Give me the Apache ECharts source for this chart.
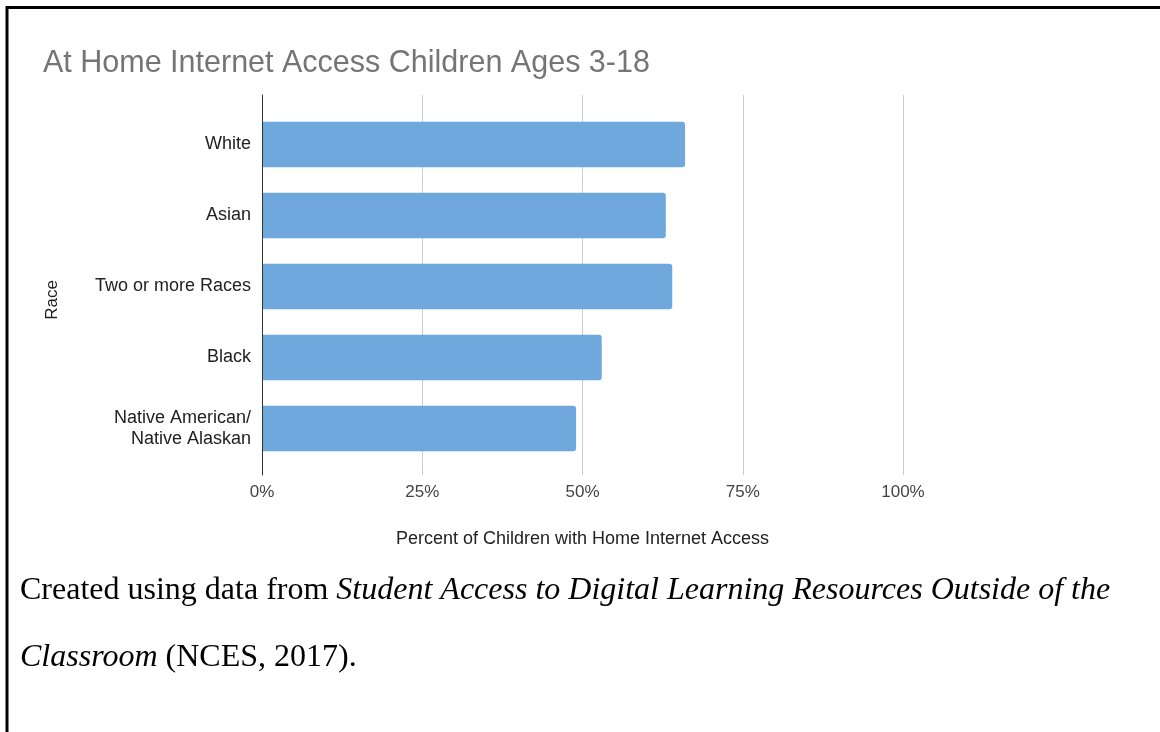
<!DOCTYPE html>
<html>
<head>
<meta charset="utf-8">
<script src="https://cdn.jsdelivr.net/npm/echarts@6/dist/echarts.min.js"></script>
<style>
  html, body { margin: 0; padding: 0; background: #ffffff; }
  #chart { width: 1160px; height: 732px; }
</style>
</head>
<body>
<div id="chart"></div>
<script>
// Race groups, top to bottom
const categories = ['White', 'Asian', 'Two or more Races', 'Black', 'Native American/\nNative Alaskan'];
// Percent of children ages 3-18 with internet access at home
const accessPercent = [66, 63, 64, 53, 49];
// Percent axis range and step
const axisMin = 0;
const axisMax = 100;
const axisStep = 25;

const titleText = 'At Home Internet Access Children Ages 3-18';
const xAxisTitle = 'Percent of Children with Home Internet Access';
const yAxisTitle = 'Race';
const captionLine1 = ['Created using data from ', 'Student Access to Digital Learning Resources Outside of the'];
const captionLine2 = ['Classroom', ' (NCES, 2017).'];

const sans = '"Liberation Sans", Arial, Helvetica, sans-serif';
const serif = '"Liberation Serif", "Times New Roman", Times, serif';

const chart = echarts.init(document.getElementById('chart'), null, { renderer: 'canvas' });

chart.setOption({
  backgroundColor: '#ffffff',
  animation: false,
  grid: [
    // bars
    { left: 262, right: 257, top: 109, bottom: 268, containLabel: false },
    // frame: gridlines, ticks, baseline
    { left: 262, right: 257, top: 95, bottom: 257, containLabel: false }
  ],
  xAxis: [
    {
      gridIndex: 0, type: 'value', min: axisMin, max: axisMax, interval: axisStep,
      show: false
    },
    {
      gridIndex: 1, type: 'value', min: axisMin, max: axisMax, interval: axisStep,
      axisLine: { show: false },
      axisTick: { show: false },
      splitLine: { show: true, lineStyle: { color: '#cccccc', width: 1 } },
      axisLabel: {
        formatter: '{value}%', color: '#444444', fontFamily: sans, fontSize: 17, margin: 9
      },
      name: xAxisTitle,
      nameLocation: 'middle',
      nameGap: 55,
      nameTextStyle: { color: '#222222', fontFamily: sans, fontSize: 18 }
    }
  ],
  yAxis: [
    {
      gridIndex: 0, type: 'category', data: categories, inverse: true,
      axisLine: { show: false },
      axisTick: { show: false },
      splitLine: { show: false },
      axisLabel: {
        color: '#222222', fontFamily: sans, fontSize: 18, lineHeight: 21, margin: 11, align: 'right'
      }
    },
    {
      gridIndex: 1, type: 'value', min: 0, max: 1,
      axisLine: { show: true, onZero: false, lineStyle: { color: '#333333', width: 1 } },
      axisTick: { show: false },
      axisLabel: { show: false },
      splitLine: { show: false },
      z: 5
    }
  ],
  series: [
    {
      type: 'bar',
      xAxisIndex: 0,
      yAxisIndex: 0,
      data: accessPercent,
      barCategoryGap: '35.7%',
      itemStyle: { color: '#6fa8dc', borderRadius: [0, 3, 3, 0] },
      z: 3
    }
  ],
  graphic: [
    {
      type: 'text', left: 43, top: 48,
      style: { text: titleText, fill: '#757575', font: '30.5px ' + sans }
    },
    {
      type: 'text', x: 52, y: 300, rotation: Math.PI / 2,
      style: { text: yAxisTitle, fill: '#222222', font: '17px ' + sans, align: 'center', verticalAlign: 'middle' }
    },
    {
      type: 'text', x: 20, y: 575,
      style: {
        text: '{n|' + captionLine1[0] + '}{i|' + captionLine1[1] + '}',
        rich: {
          n: { fill: '#000000', font: '32px ' + serif },
          i: { fill: '#000000', font: 'italic 32px ' + serif }
        }
      }
    },
    {
      type: 'text', x: 20, y: 642,
      style: {
        text: '{i|' + captionLine2[0] + '}{n|' + captionLine2[1] + '}',
        rich: {
          n: { fill: '#000000', font: '32px ' + serif },
          i: { fill: '#000000', font: 'italic 32px ' + serif }
        }
      }
    },
    {
      type: 'polyline',
      shape: { points: [[7, 732], [7, 7.5], [1160, 7.5]] },
      style: { stroke: '#000000', lineWidth: 3, fill: null }
    }
  ]
});
</script>
</body>
</html>
